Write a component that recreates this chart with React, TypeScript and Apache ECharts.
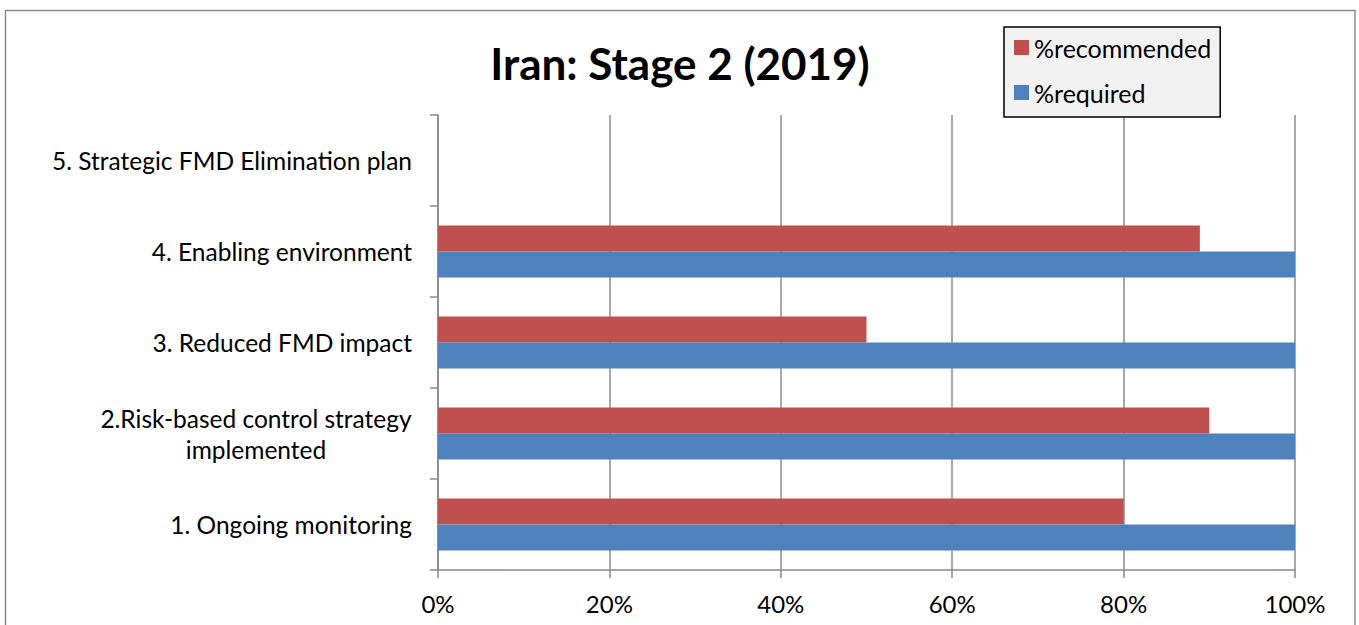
import React, { useEffect, useRef } from "react";
import * as echarts from "echarts";

const titleText = "Iran: Stage 2 (2019)";
const categories = [
  "1. Ongoing monitoring",
  "2.Risk-based control strategy\nimplemented",
  "3. Reduced FMD impact",
  "4. Enabling environment",
  "5. Strategic FMD Elimination plan",
];
const recommended = [80, 90, 50, 88.9, null];
const required = [100, 100, 100, 100, null];
const xTicks = { min: 0, max: 100, interval: 20 };
const seriesNames = ["%recommended", "%required"];

const FONT = "Lato, 'Open Sans', sans-serif";

export default function App() {
  const ref = useRef<HTMLDivElement>(null);
  useEffect(() => {
    document.body.style.margin = "0";
    if (!ref.current) return;
    const chart = echarts.init(ref.current, null, { renderer: "svg" });
    chart.setOption({
      animation: false,
      backgroundColor: "#ffffff",
      textStyle: { fontFamily: FONT },
      title: {
        text: titleText,
        left: 675,
        top: 36,
        textAlign: "center",
        textStyle: { fontFamily: FONT, fontSize: 44, fontWeight: "bold", color: "#000" },
      },
      legend: {
        data: seriesNames,
        orient: "vertical",
        left: 1004,
        top: 27,
        icon: "rect",
        itemWidth: 15,
        itemHeight: 15,
        itemGap: 20,
        padding: [8, 9, 12, 10],
        backgroundColor: "#f2f2f2",
        borderColor: "#000",
        borderWidth: 1.5,
        textStyle: { fontFamily: FONT, fontSize: 25, color: "#000" },
      },
      grid: { left: 438, right: 64, top: 115, bottom: 55, containLabel: false },
      xAxis: {
        type: "value",
        min: xTicks.min,
        max: xTicks.max,
        interval: xTicks.interval,
        axisLine: { show: true, lineStyle: { color: "#888", width: 1.5 } },
        axisTick: { show: true, length: 8, lineStyle: { color: "#888", width: 1.5 } },
        splitLine: { show: true, lineStyle: { color: "#8c8c8c", width: 1.5 } },
        axisLabel: {
          formatter: "{value}%",
          margin: 21,
          color: "#000",
          fontFamily: FONT,
          fontSize: 24,
        },
      },
      yAxis: {
        type: "category",
        data: categories,
        axisLine: { show: true, lineStyle: { color: "#888", width: 1.5 } },
        axisTick: { show: true, length: 8, lineStyle: { color: "#888", width: 1.5 } },
        axisLabel: {
          margin: 26,
          color: "#000",
          fontFamily: FONT,
          fontSize: 24.5,
          lineHeight: 31,
          formatter: (v: string) =>
            v.indexOf("\n") >= 0
              ? v
                  .split("\n")
                  .map((s) => "{c|" + s + "}")
                  .join("\n")
              : v,
          rich: {
            c: { width: 312, align: "center", fontFamily: FONT, fontSize: 24.5, lineHeight: 31, color: "#000" },
          },
        },
      },
      series: [
        {
          name: seriesNames[0],
          type: "bar",
          data: recommended,
          barWidth: 26,
          barGap: "0%",
          itemStyle: { color: "#C0504D" },
        },
        {
          name: seriesNames[1],
          type: "bar",
          data: required,
          barWidth: 26,
          barGap: "0%",
          itemStyle: { color: "#4F81BD" },
        },
      ],
      graphic: [
        {
          type: "rect",
          shape: { x: 5.5, y: 10.5, width: 1349.5, height: 700 },
          style: { fill: "none", stroke: "#8a8a8a", lineWidth: 1.5 },
          silent: true,
          z: 100,
        },
      ],
    });
    return () => chart.dispose();
  }, []);
  return <div ref={ref} style={{ width: 1359, height: 625 }} />;
}
